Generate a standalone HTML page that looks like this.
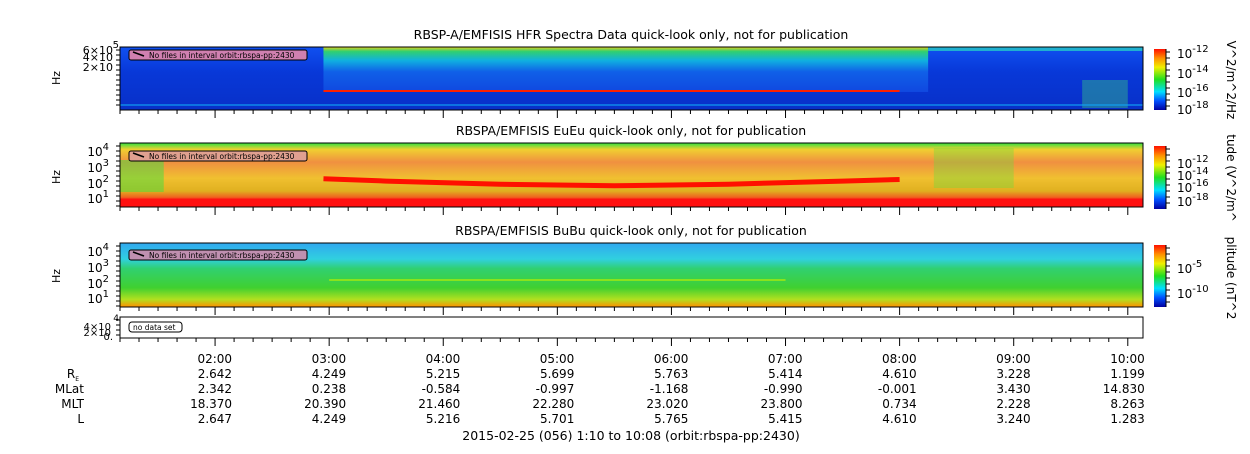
<!DOCTYPE html>
<html><head><meta charset="utf-8">
<style>
body{margin:0;background:#fff;}
svg text{font-family:"DejaVu Sans","Liberation Sans",sans-serif;fill:#000;}
</style></head>
<body>
<svg id="c" width="1250" height="449" viewBox="0 0 1250 449" xmlns="http://www.w3.org/2000/svg">
<defs>
<linearGradient id="cb" x1="0" y1="1" x2="0" y2="0">
<stop offset="0" stop-color="#0000a0"/><stop offset="0.15" stop-color="#0050ff"/><stop offset="0.3" stop-color="#00e0ff"/><stop offset="0.5" stop-color="#20e020"/><stop offset="0.7" stop-color="#f0f000"/><stop offset="0.85" stop-color="#ff9000"/><stop offset="1" stop-color="#ff1000"/>
</linearGradient>
<linearGradient id="p1" x1="0" y1="0" x2="0" y2="1">
<stop offset="0" stop-color="#1050f0"/><stop offset="0.4" stop-color="#0838d8"/><stop offset="1" stop-color="#0830c8"/>
</linearGradient>
<linearGradient id="p1mid" x1="0" y1="0" x2="0" y2="1">
<stop offset="0" stop-color="#e0d020"/><stop offset="0.1" stop-color="#30d070"/><stop offset="0.3" stop-color="#10b0e0"/><stop offset="0.55" stop-color="#1060e8"/><stop offset="1" stop-color="#1048e0"/>
</linearGradient>
<linearGradient id="p2" x1="0" y1="0" x2="0" y2="1">
<stop offset="0" stop-color="#30e040"/><stop offset="0.1" stop-color="#f0d030"/><stop offset="0.3" stop-color="#f09040"/><stop offset="0.55" stop-color="#f0c030"/><stop offset="0.75" stop-color="#e0b020"/><stop offset="0.85" stop-color="#f06020"/><stop offset="0.88" stop-color="#ff1010"/><stop offset="1" stop-color="#ff1010"/>
</linearGradient>
<linearGradient id="p3" x1="0" y1="0" x2="0" y2="1">
<stop offset="0" stop-color="#30a8f0"/><stop offset="0.25" stop-color="#30d0e0"/><stop offset="0.4" stop-color="#30d070"/><stop offset="0.7" stop-color="#40d030"/><stop offset="0.88" stop-color="#b0e020"/><stop offset="1" stop-color="#ff9000"/>
</linearGradient>
</defs>
<g id="panels"></g>
<g id="axes"></g>
<g id="tbl"></g>
</svg>
<script>
// time axis data (hours)
const tStart = 1 + 10/60, tEnd = 10 + 8/60;
const tickHours = [2,3,4,5,6,7,8,9,10];
const tickLabels = ["02:00","03:00","04:00","05:00","06:00","07:00","08:00","09:00","10:00"];
const rowNames = ["RE","MLat","MLT","L"];
const reVals = ["2.642","4.249","5.215","5.699","5.763","5.414","4.610","3.228","1.199"];
const mlatVals = ["2.342","0.238","-0.584","-0.997","-1.168","-0.990","-0.001","3.430","14.830"];
const mltVals = ["18.370","20.390","21.460","22.280","23.020","23.800","0.734","2.228","8.263"];
const lVals = ["2.647","4.249","5.216","5.701","5.765","5.415","4.610","3.240","1.283"];
// red emission line in EuEu (hours, log10 Hz)
const lineT = [2.95,3.5,4.5,5.5,6.5,7.5,8.0];
const lineF = [2.1,1.95,1.75,1.65,1.75,1.95,2.05];

const X0=120,X1=1143;
const x = h => X0 + (h - tStart)/(tEnd - tStart)*(X1 - X0);
const yEu = f => 196 - (f-1)*15.7;
const NS="http://www.w3.org/2000/svg";
function mk(tag,attrs,parent,txt){const e=document.createElementNS(NS,tag);for(const k in attrs)e.setAttribute(k,attrs[k]);if(txt!==undefined)e.textContent=txt;parent.appendChild(e);return e;}
const P=document.getElementById('panels'),A=document.getElementById('axes'),T=document.getElementById('tbl');

const panels=[
 {y:47,h:63,fill:"url(#p1)",title:"RBSP-A/EMFISIS  HFR Spectra Data quick-look only, not for publication",ty:39},
 {y:143,h:64,fill:"url(#p2)",title:"RBSPA/EMFISIS  EuEu quick-look only, not for publication",ty:135},
 {y:243,h:64,fill:"url(#p3)",title:"RBSPA/EMFISIS  BuBu quick-look only, not for publication",ty:235},
 {y:317,h:21,fill:"#fff",title:"",ty:0}
];
panels.forEach((p,i)=>{
 const r=mk('rect',{x:X0,y:p.y,width:X1-X0,height:p.h,fill:p.fill},P);
 
 
 if(p.title){const t=mk('text',{x:631,y:p.ty,'font-size':12.5,'text-anchor':'middle'},P,p.title);
 }
});
// HFR features
mk('rect',{x:x(2.95),y:47,width:x(8.25)-x(2.95),height:45,fill:"url(#p1mid)"},P);
mk('rect',{x:x(8.25),y:47,width:x(10.13)-x(8.25),height:4,fill:"#20b0d0"},P);
mk('rect',{x:x(9.6),y:80,width:x(10.0)-x(9.6),height:28,fill:"#30b090",opacity:0.5},P);
mk('rect',{x:x(2.95),y:90,width:x(8.0)-x(2.95),height:2,fill:"#ff2000"},P);
mk('rect',{x:X0,y:104,width:X1-X0,height:2,fill:"#10a0f0",opacity:0.6},P);
// EuEu features
mk('rect',{x:X0,y:160,width:x(1.55)-X0,height:32,fill:"#40e040",opacity:0.5},P);
mk('rect',{x:x(8.3),y:148,width:x(9.0)-x(8.3),height:40,fill:"#60e040",opacity:0.35},P);
const pts=lineT.map((t,i)=>x(t)+","+yEu(lineF[i])).join(" ");
const pl=mk('polyline',{points:pts,fill:"none",stroke:"#ff1000","stroke-width":5},P);

// BuBu features
mk('rect',{x:x(3.0),y:279,width:x(7.0)-x(3.0),height:2,fill:"#c0f000",opacity:0.6},P);
// frames
panels.forEach((p,i)=>{mk('rect',{x:X0,y:p.y,width:X1-X0,height:p.h,fill:"none",stroke:"#000"},A);});
// annotation boxes
[[54,"No files in interval orbit:rbspa-pp:2430"],[155,"No files in interval orbit:rbspa-pp:2430"],[254,"No files in interval orbit:rbspa-pp:2430"]].forEach((a,i)=>{
 const b=mk('rect',{x:129,y:a[0]-4,width:178,height:10,rx:2,fill:["#d080b0","#e0a090","#c090b0"][i],stroke:"#000"},A);
 
 mk('line',{x1:133,y1:a[0]-2,x2:144,y2:a[0]+2,stroke:"#000","stroke-width":1.5},A);
 mk('text',{x:149,y:a[0]+4,'font-size':7.5},A,a[1]);
});
const nd=mk('rect',{x:129,y:322,width:53,height:10,rx:3,fill:"#fff",stroke:"#000"},A);

mk('text',{x:133,y:330,'font-size':7.5},A,"no data set");
// time ticks below each panel
[110,207,307,338].forEach(yb=>{
 for(let m=Math.ceil(tStart*6);m<=tEnd*6;m++){const h=m/6;const major=m%6===0;
  mk('line',{x1:x(h),y1:yb,x2:x(h),y2:yb+(major?8:4),stroke:"#000"},A);}
});
// y labels
[[78,"Hz"],[177,"Hz"],[276,"Hz"]].forEach(l=>{const t=mk('text',{x:60,y:l[0],'font-size':11,'text-anchor':'middle',transform:`rotate(-90 60 ${l[0]})`},A,l[1]);});
function sup(x0,y0,base,exp){const t=mk('text',{x:x0,y:y0,'font-size':12,'text-anchor':'end'},A);mk('tspan',{},t,base);mk('tspan',{dy:-6,'font-size':10},t,exp);return t;}
mk('text',{x:113,y:54,'font-size':11,'text-anchor':'end'},A,"6×10");
mk('text',{x:113,y:61,'font-size':11,'text-anchor':'end'},A,"4×10");
mk('text',{x:113,y:71,'font-size':11,'text-anchor':'end'},A,"2×10");
mk('text',{x:119,y:48,'font-size':10,'text-anchor':'end'},A,"5");
[[153,"4"],[169,"3"],[185,"2"],[200,"1"]].forEach(v=>sup(109,v[0]+3,"10",v[1]));
[[253,"4"],[269,"3"],[285,"2"],[300,"1"]].forEach(v=>sup(109,v[0]+3,"10",v[1]));
mk('text',{x:111,y:330,'font-size':10,'text-anchor':'end'},A,"4×10");
mk('text',{x:111,y:336,'font-size':10,'text-anchor':'end'},A,"2×10");
mk('text',{x:113,y:340,'font-size':10,'text-anchor':'end'},A,"0.");
mk('text',{x:119,y:321,'font-size':9,'text-anchor':'end'},A,"4");
// y minor ticks
[[47,110],[143,207],[243,307],[317,338]].forEach(r=>{for(let y=r[0]+3;y<r[1];y+=5)mk('line',{x1:116,y1:y,x2:120,y2:y,stroke:"#000"},A);});
// colorbars
[[49,110,["-12","-14","-16","-18"],[52,72,91,108],"V^2/m^2/Hz",80],[146,209,["-12","-14","-16","-18"],[162,174,186,200],"tude (V^2/m^",178],[245,307,["-5","-10"],[267,292],"plitude (nT^2",278]].forEach((c,i)=>{
 const r=mk('rect',{x:1154,y:c[0],width:12,height:c[1]-c[0],fill:"url(#cb)"},A);
 
 mk('line',{x1:1166,y1:c[0],x2:1166,y2:c[1],stroke:"#000"},A);
 for(let y=c[0]+3;y<c[1];y+=6)mk('line',{x1:1166,y1:y,x2:1170,y2:y,stroke:"#000"},A);
 c[2].forEach((e,j)=>{const t=mk('text',{x:1177,y:c[3][j]+6,'font-size':12},A);mk('tspan',{},t,"10");mk('tspan',{dy:-6,'font-size':10},t,e);});
 const lt=mk('text',{x:1227,y:c[5],'font-size':12,'text-anchor':'middle',transform:`rotate(90 1227 ${c[5]})`},A,c[4]);
 
});
// ephemeris table
const rows=[tickLabels,reVals,mlatVals,mltVals,lVals];
const ys=[363,378,393,408,423];
rows.forEach((vals,ri)=>{
 vals.forEach((v,i)=>{const t=mk('text',{x:x(tickHours[i])+17,y:ys[ri],'font-size':12,'text-anchor':'end'},T,v);
  });
});
const re=mk('text',{x:79,y:378,'font-size':12,'text-anchor':'end'},T);mk('tspan',{},re,"R");mk('tspan',{dy:3,'font-size':6},re,"E");
mk('text',{x:84,y:393,'font-size':12,'text-anchor':'end'},T,"MLat");
mk('text',{x:84,y:408,'font-size':12,'text-anchor':'end'},T,"MLT");
mk('text',{x:84,y:423,'font-size':12,'text-anchor':'end'},T,"L");
const ft=mk('text',{x:631,y:440,'font-size':12.5,'text-anchor':'middle'},T,"2015-02-25 (056) 1:10 to 10:08 (orbit:rbspa-pp:2430)");

</script>
</body></html>
